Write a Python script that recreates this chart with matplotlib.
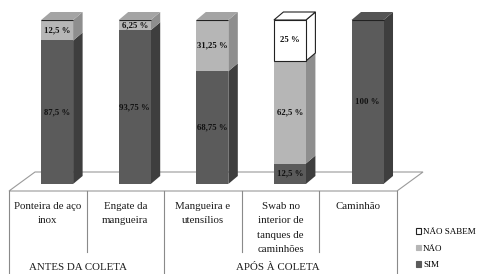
import matplotlib
matplotlib.use("Agg")
import matplotlib.pyplot as plt
from matplotlib.patches import Polygon, Patch
import matplotlib.transforms as mtransforms

categories = ["Ponteira de aço\ninox", "Engate da\nmangueira", "Mangueira e\nutensílios",
              "Swab no\ninterior de\ntanques de\ncaminhões", "Caminhão"]
groups = ["ANTES DA COLETA", "APÓS À COLETA"]
sim = [87.5, 93.75, 68.75, 12.5, 100]
nao = [12.5, 6.25, 31.25, 62.5, 0]
nao_sabem = [0, 0, 0, 25, 0]
sim_labels = ["87,5 %", "93,75 %", "68,75 %", "12,5 %", "100 %"]
nao_labels = ["12,5 %", "6,25 %", "31,25 %", "62,5 %", ""]
ns_labels = ["", "", "", "25 %", ""]
series_names = ["SIM", "NÃO", "NÃO SABEM"]

plt.rcParams['font.family'] = ['Liberation Serif', 'DejaVu Serif']

W, H = 478, 274
fig = plt.figure(figsize=(W / 100, H / 100), dpi=100)
# axes: x pixels 9..397, y pixels 20 (100%) .. 184 (0%)
ax = fig.add_axes([9 / W, (H - 184) / H, 388 / W, 164 / H])
ax.set_xlim(-0.62, 4.38)
ax.set_ylim(0, 100)
ax.axis('off')

px_y = 100.0 / 164  # data units per pixel in y
dx, dy = 9.5 / 77.6, 8 * px_y
width = 32 / 77.6

# floor
fdx, fdy = 26 / 77.6, 19 * px_y
f_front = -7 * px_y
floor = Polygon([(-0.62, f_front), (4.38, f_front), (4.38 + fdx, f_front + fdy),
                 (-0.62 + fdx, f_front + fdy)], closed=True, facecolor='white',
                edgecolor='#9a9a9a', lw=0.8, zorder=0, clip_on=False)
ax.add_patch(floor)

styles = [
    dict(front='#5b5b5b', side='#3e3e3e', top='#545454', edge='none'),
    dict(front='#b6b6b6', side='#8e8e8e', top='#a4a4a4', edge='none'),
    dict(front='#ffffff', side='#ffffff', top='#ffffff', edge='#222222'),
]
x = list(range(len(categories)))
bottoms = [0] * len(x)
containers = []
for vals, st in zip([sim, nao, nao_sabem], styles):
    lw = 0.8 if st['edge'] != 'none' else 0
    bc = ax.bar(x, vals, width=width, bottom=bottoms, color=st['front'],
                edgecolor=st['edge'], linewidth=lw, zorder=3)
    containers.append(bc)
    for r in bc:
        if r.get_height() <= 0:
            continue
        x1 = r.get_x() + r.get_width()
        y0, y1 = r.get_y(), r.get_y() + r.get_height()
        side = Polygon([(x1, y0), (x1 + dx, y0 + dy), (x1 + dx, y1 + dy), (x1, y1)],
                       closed=True, facecolor=st['side'], edgecolor=st['edge'],
                       lw=lw, zorder=2, clip_on=False)
        ax.add_patch(side)
    bottoms = [b + v for b, v in zip(bottoms, vals)]

# top faces
for i in x:
    top = bottoms[i]
    for vals, st, bc in zip([nao_sabem, nao, sim], styles[::-1], containers[::-1]):
        if vals[i] > 0:
            r = bc[i]
            x0 = r.get_x(); x1 = x0 + r.get_width()
            lw = 0.8 if st['edge'] != 'none' else 0
            tp = Polygon([(x0, top), (x0 + dx, top + dy), (x1 + dx, top + dy), (x1, top)],
                         closed=True, facecolor=st['top'], edgecolor=st['edge'],
                         lw=lw, zorder=2, clip_on=False)
            ax.add_patch(tp)
            break

# value labels
for bc, labs in zip(containers, [sim_labels, nao_labels, ns_labels]):
    for r, lab in zip(bc, labs):
        if lab:
            ax.text(r.get_x() + r.get_width() / 2, r.get_y() + r.get_height() / 2, lab,
                    ha='center', va='center', fontsize=6.3, fontweight='bold',
                    color='#111111', zorder=5)

# table
tr = mtransforms.blended_transform_factory(ax.transData, fig.transFigure)
y_top = 1 - 191 / H
y_short = 1 - 252 / H
edges = [-0.62 + k for k in range(6)]
full = {0, 2, 5}
for k, e in enumerate(edges):
    ax.plot([e, e], [y_top, 0 if k in full else y_short], transform=tr,
            color='#8a8a8a', lw=0.8, clip_on=False)
for i, c in enumerate(categories):
    ax.text(i - 0.12, 1 - 202 / H, c, transform=tr, ha='center', va='top',
            fontsize=7.8, linespacing=1.78, color='#1a1a1a')
ax.text(0.27, 1 - 268 / H, groups[0], transform=tr, ha='center', va='center',
        fontsize=7.8, color='#1a1a1a')
ax.text(2.85, 1 - 268 / H, groups[1], transform=tr, ha='center', va='center',
        fontsize=7.8, color='#1a1a1a')

# legend
handles = [Patch(facecolor=s['front'], edgecolor='#222222' if s['edge'] != 'none' else s['front'], lw=0.8)
           for s in styles][::-1]
fig.legend(handles, series_names[::-1], loc='upper left',
           bbox_to_anchor=(416 / W, 1 - 228 / H), frameon=False, fontsize=6.5,
           handlelength=0.6, handleheight=0.6, handletextpad=0.2, labelspacing=0.95,
           borderpad=0, borderaxespad=0)

fig.savefig("out.png", dpi=100)
